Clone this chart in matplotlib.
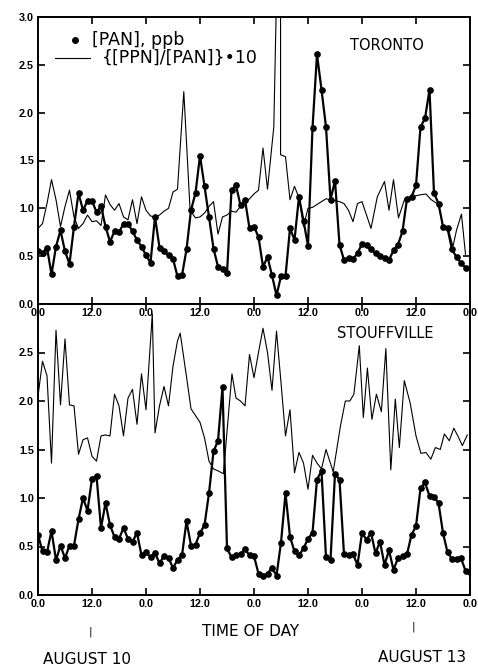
import matplotlib.pyplot as plt
from matplotlib.lines import Line2D

plt.rcParams['font.family'] = ['DejaVu Sans']

# --- Toronto ---
tor_pan_h = list(range(96))
tor_pan = [0.55, 0.53, 0.59, 0.31, 0.60, 0.77, 0.55, 0.42, 0.81, 1.16,
           0.98, 1.08, 1.08, 0.96, 1.02, 0.81, 0.65, 0.76, 0.75, 0.84,
           0.84, 0.76, 0.67, 0.60, 0.51, 0.43, 0.91, 0.59, 0.55, 0.51,
           0.47, 0.29, 0.30, 0.57, 0.98, 1.16, 1.55, 1.23, 0.91, 0.58,
           0.39, 0.37, 0.32, 1.19, 1.24, 1.03, 1.09, 0.79, 0.81, 0.70,
           0.39, 0.49, 0.30, 0.09, 0.29, 0.29, 0.79, 0.67, 1.12, 0.87,
           0.61, 1.84, 2.61, 2.24, 1.85, 1.09, 1.29, 0.62, 0.46, 0.48,
           0.47, 0.53, 0.63, 0.62, 0.57, 0.53, 0.50, 0.48, 0.46, 0.56,
           0.62, 0.76, 1.10, 1.12, 1.24, 1.85, 1.94, 2.24, 1.16, 1.05,
           0.81, 0.79, 0.57, 0.49, 0.43, 0.38]

tor_ratio_h = [0, 1, 2, 3, 4, 5, 6, 7, 8, 9, 10, 11, 12, 13, 14, 15, 16, 17,
               18, 19, 20, 21, 22, 23, 24, 25, 26, 27, 28, 29, 30, 31, 32.4,
               33.8, 35, 36, 37, 38, 39, 40, 41, 42, 43, 44, 45, 46, 47, 48,
               49, 50, 51, 52.4, 53.9, 53.9, 55, 56, 57, 58, 59, 60, 61, 62,
               63, 64, 65, 66, 67, 68, 69, 70, 71, 72, 74, 75.4, 77, 78, 79,
               80.1, 81.5, 83, 84.8, 86.2, 87.4, 89, 90, 91.1, 92.2, 93,
               94.1, 95]
tor_ratio = [0.79, 0.84, 1.05, 1.30, 1.09, 0.81, 1.02, 1.19, 0.91, 0.79,
             0.84, 0.93, 0.86, 0.87, 0.82, 1.14, 1.04, 0.98, 1.05, 0.91,
             0.88, 1.09, 0.84, 1.12, 0.98, 0.92, 0.91, 0.93, 0.97, 1.00,
             1.17, 1.20, 2.22, 0.98, 0.90, 0.91, 0.95, 1.02, 1.07, 0.73,
             0.91, 0.93, 0.97, 0.96, 1.02, 1.05, 1.10, 1.15, 1.19, 1.63,
             1.20, 1.85, 5.30, 1.56, 1.54, 1.09, 1.23, 1.11, 0.81, 1.00,
             1.01, 1.04, 1.07, 1.10, 1.09, 1.08, 1.07, 1.05, 0.98, 0.86,
             1.05, 1.07, 0.79, 1.12, 1.28, 0.98, 1.30, 0.90, 1.10, 1.12,
             1.14, 1.15, 1.09, 1.04, 0.81, 0.80, 0.60, 0.77, 0.94, 0.52]

# --- Stouffville ---
stf_pan_h = list(range(97))
stf_pan = [0.62, 0.45, 0.44, 0.66, 0.36, 0.51, 0.38, 0.51, 0.51, 0.78,
           1.00, 0.87, 1.20, 1.23, 0.69, 0.95, 0.72, 0.60, 0.58, 0.69,
           0.58, 0.55, 0.64, 0.41, 0.44, 0.39, 0.43, 0.33, 0.40, 0.38,
           0.28, 0.36, 0.41, 0.76, 0.51, 0.52, 0.64, 0.72, 1.05, 1.48,
           1.59, 2.14, 0.48, 0.39, 0.41, 0.42, 0.47, 0.41, 0.40, 0.22,
           0.20, 0.22, 0.28, 0.20, 0.54, 1.05, 0.60, 0.45, 0.41, 0.48,
           0.58, 0.64, 1.19, 1.28, 0.39, 0.36, 1.25, 1.19, 0.42, 0.41,
           0.42, 0.31, 0.64, 0.57, 0.64, 0.43, 0.55, 0.31, 0.46, 0.26,
           0.38, 0.40, 0.42, 0.62, 0.71, 1.10, 1.16, 1.02, 1.01, 0.95,
           0.64, 0.44, 0.37, 0.37, 0.38, 0.25, 0.24]

stf_ratio_h = [0, 1, 2, 3, 4, 5, 6, 7, 8, 9, 10, 11, 12, 13, 14, 15, 16, 17,
               18, 19, 20, 21, 22, 23, 24, 25.4, 26, 27, 28, 29, 30, 31, 31.6,
               33, 34, 35, 36, 37, 38, 39, 40, 41.2, 43.1, 44, 45, 46, 47, 48,
               49, 50, 51, 52, 53, 54, 55, 56, 57, 58, 59, 60, 61, 62, 63, 64,
               65.6, 67.2, 68.3, 69.3, 70.2, 71.4, 72.3, 73.2, 74.2, 75.2,
               76.3, 77.3, 78.4, 79.4, 80.3, 81.4, 82.7, 84, 85.1, 86.2, 87.3,
               88.3, 89.4, 90.3, 91.4, 92.4, 93.3, 94.3, 95.4]
stf_ratio = [2.05, 2.41, 2.26, 1.36, 2.73, 1.96, 2.64, 1.96, 1.95, 1.45,
             1.60, 1.62, 1.43, 1.38, 1.64, 1.65, 1.64, 2.07, 1.95, 1.64,
             2.03, 2.12, 1.76, 2.28, 1.91, 2.90, 1.67, 1.95, 2.15, 1.95,
             2.36, 2.62, 2.70, 2.25, 1.92, 1.85, 1.78, 1.62, 1.38, 1.30,
             1.28, 1.25, 2.28, 2.03, 2.00, 1.95, 2.48, 2.24, 2.50, 2.75,
             2.50, 2.11, 2.72, 2.19, 1.64, 1.91, 1.26, 1.47, 1.36, 1.09,
             1.44, 1.36, 1.30, 1.50, 1.27, 1.74, 2.00, 2.00, 2.07, 2.57,
             1.83, 2.34, 1.81, 2.07, 1.89, 2.54, 1.29, 2.02, 1.52, 2.21,
             1.98, 1.64, 1.46, 1.47, 1.40, 1.52, 1.50, 1.66, 1.59, 1.72,
             1.64, 1.54, 1.65]

xticks = [0, 12, 24, 36, 48, 60, 72, 84, 96]
xlabels = ['0.0', '12.0'] * 4 + ['0.0']

W, H = 478, 671
fig = plt.figure(figsize=(W / 100, H / 100), dpi=100)
left, width = 38 / W, 432 / W
ax1 = fig.add_axes([left, 1 - 304 / H, width, 287 / H])
ax2 = fig.add_axes([left, 1 - 595 / H, width, 291 / H])
# keep the upper panel's tick labels visible over the lower panel
ax2.patch.set_visible(False)

tick_font = dict(fontsize=7.8, fontweight='bold',
                 family=['Liberation Sans', 'DejaVu Sans'])


def style(ax, yticks):
    ax.set_xlim(0, 96)
    ax.set_ylim(0, 3.0)
    ax.set_xticks(xticks)
    ax.set_xticklabels(xlabels, **tick_font)
    ax.set_yticks(yticks)
    ax.set_yticklabels(['%.1f' % t for t in yticks], **tick_font)
    ax.tick_params(direction='in', length=5, width=1.2, top=True, right=True,
                   pad=3)
    for s in ax.spines.values():
        s.set_linewidth(1.4)


for ax, ph, pv, rh, rv in [(ax1, tor_pan_h, tor_pan, tor_ratio_h, tor_ratio),
                           (ax2, stf_pan_h, stf_pan, stf_ratio_h, stf_ratio)]:
    ax.plot(rh, rv, color='black', lw=0.8)
    ax.plot(ph, pv, color='black', lw=1.6, marker='o', markersize=3.8)

style(ax1, [0.0, 0.5, 1.0, 1.5, 2.0, 2.5, 3.0])
style(ax2, [0.0, 0.5, 1.0, 1.5, 2.0, 2.5])

# key in the upper left of the Toronto panel
ax1.add_line(Line2D([0.0856], [0.920], transform=ax1.transAxes,
                    color='black', marker='o', markersize=4, linestyle='none'))
ax1.text(0.125, 0.920, '[PAN], ppb', transform=ax1.transAxes, fontsize=12.5,
         va='center')
ax1.add_line(Line2D([0.039, 0.120], [0.857, 0.857], transform=ax1.transAxes,
                    color='black', lw=0.8))
ax1.text(0.148, 0.857, '{[PPN]/[PAN]}•10', transform=ax1.transAxes,
         fontsize=12.5, va='center')

ax1.text(0.807, 0.900, 'TORONTO', transform=ax1.transAxes, fontsize=10.5,
         ha='center', va='center')
ax2.text(0.804, 0.897, 'STOUFFVILLE', transform=ax2.transAxes, fontsize=10.5,
         ha='center', va='center')

fig.text(251 / W, 1 - 632 / H, 'TIME OF DAY', fontsize=11, ha='center',
         va='center')
fig.text(90 / W, 1 - 632 / H, '|', fontsize=8, ha='center', va='center')
fig.text(413 / W, 1 - 627 / H, '|', fontsize=8, ha='center', va='center')
fig.text(87 / W, 1 - 660 / H, 'AUGUST 10', fontsize=11, ha='center',
         va='center')
fig.text(422 / W, 1 - 657 / H, 'AUGUST 13', fontsize=11, ha='center',
         va='center')

fig.savefig('out.png', dpi=100)
